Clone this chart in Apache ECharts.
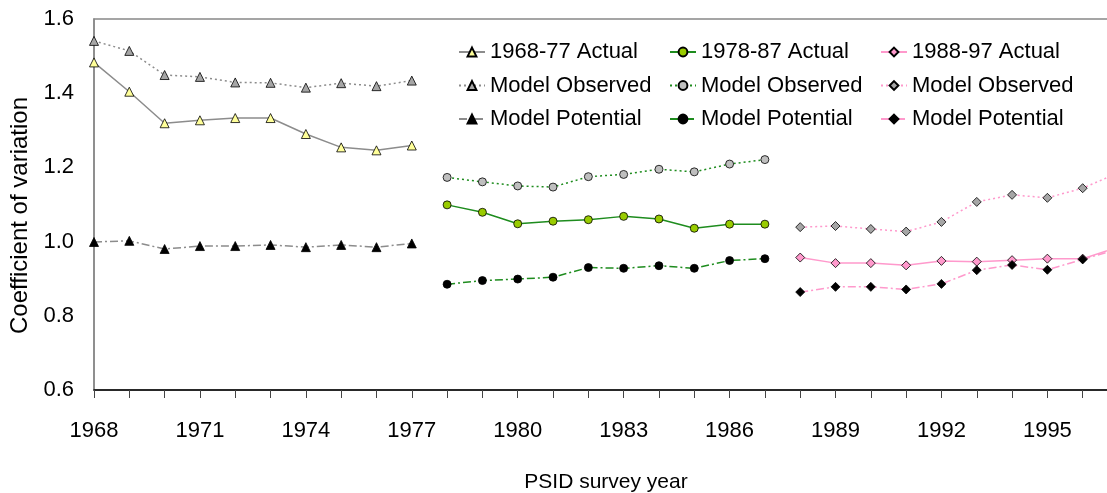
<!DOCTYPE html>
<html>
<head>
<meta charset="utf-8">
<script src="https://cdn.jsdelivr.net/npm/echarts@6/dist/echarts.min.js"></script>
<style>
  html, body { margin: 0; padding: 0; background: #ffffff; }
  #chart { width: 1107px; height: 493px; }
</style>
</head>
<body>
<div id="chart"></div>
<script>
// survey years per decade
var years1 = [1968, 1969, 1970, 1971, 1972, 1973, 1974, 1975, 1976, 1977];
var years2 = [1978, 1979, 1980, 1981, 1982, 1983, 1984, 1985, 1986, 1987];
var years3 = [1988, 1989, 1990, 1991, 1992, 1993, 1994, 1995, 1996, 1997];

// 1968-77
var actual1    = [1.483, 1.404, 1.319, 1.327, 1.333, 1.333, 1.290, 1.254, 1.246, 1.259];
var observed1  = [1.541, 1.514, 1.449, 1.444, 1.429, 1.428, 1.415, 1.427, 1.419, 1.434];
var potential1 = [0.999, 1.002, 0.980, 0.988, 0.988, 0.991, 0.985, 0.991, 0.985, 0.995];

// 1978-87
var actual2    = [1.099, 1.079, 1.048, 1.055, 1.059, 1.068, 1.061, 1.036, 1.047, 1.047];
var observed2  = [1.173, 1.161, 1.150, 1.147, 1.175, 1.181, 1.195, 1.188, 1.209, 1.221];
var potential2 = [0.885, 0.895, 0.899, 0.904, 0.930, 0.928, 0.935, 0.928, 0.949, 0.954];

// 1988-97
var actual3    = [0.957, 0.942, 0.942, 0.936, 0.948, 0.946, 0.950, 0.954, 0.954, 0.985];
var observed3  = [1.039, 1.042, 1.034, 1.027, 1.053, 1.107, 1.126, 1.118, 1.144, 1.185];
var potential3 = [0.864, 0.878, 0.878, 0.871, 0.886, 0.923, 0.937, 0.924, 0.952, 0.980];

var yTicks = [0.6, 0.8, 1.0, 1.2, 1.4, 1.6];

var legendText = {
  a1: '1968-77 Actual', o1: 'Model Observed', p1: 'Model Potential',
  a2: '1978-87 Actual', o2: 'Model Observed', p2: 'Model Potential',
  a3: '1988-97 Actual', o3: 'Model Observed', p3: 'Model Potential'
};

var FONT = 'Liberation Sans';
var GREY = '#8c8c8c';
var GREEN = '#1e8c1e';
var PINK = '#ff99cc';
var DOT = [2, 3];
var DASHDOT = [8, 3, 2, 3];

function pairs(xs, ys) {
  return xs.map(function (x, i) { return [x, ys[i]]; });
}

function mkSeries(name, xs, ys, lineColor, dash, symbol, fill, size) {
  return {
    name: name,
    type: 'line',
    data: pairs(xs, ys),
    symbol: symbol,
    symbolSize: size,
    showAllSymbol: true,
    lineStyle: { color: lineColor, width: 1.5, type: dash },
    itemStyle: { color: fill, borderColor: '#000000', borderWidth: 0.8 },
    emphasis: { disabled: true },
    z: 3
  };
}

function mkLegend(left, names) {
  return {
    data: names,
    orient: 'vertical',
    left: left,
    top: 35,
    itemWidth: 26,
    itemHeight: 11,
    itemGap: 9.5,
    selectedMode: false,
    formatter: function (n) { return legendText[n]; },
    textStyle: { fontFamily: FONT, fontSize: 22, lineHeight: 24, color: '#000' }
  };
}

var chart = echarts.init(document.getElementById('chart'), null, { renderer: 'canvas' });

chart.setOption({
  backgroundColor: '#ffffff',
  animation: false,
  grid: {
    left: 94, top: 19, width: 1024, height: 371,
    outerBoundsMode: 'none', containLabel: false,
    show: true, borderColor: '#888888', borderWidth: 1.5, backgroundColor: 'transparent'
  },
  legend: [
    mkLegend(453, ['a1', 'o1', 'p1']),
    mkLegend(664, ['a2', 'o2', 'p2']),
    mkLegend(875, ['a3', 'o3', 'p3'])
  ],
  xAxis: {
    type: 'value',
    min: 1968, max: 1997, interval: 1,
    name: 'PSID survey year',
    nameLocation: 'middle',
    nameGap: 82,
    nameTextStyle: { fontFamily: FONT, fontSize: 21, color: '#000' },
    axisLine: { show: true, lineStyle: { color: '#000000', width: 1.5 } },
    axisTick: { show: true, length: 8, lineStyle: { color: '#444', width: 1 } },
    axisLabel: {
      fontFamily: FONT, fontSize: 22, color: '#000', margin: 30,
      formatter: function (v) { return (v - 1968) % 3 === 0 ? String(v) : ''; }
    },
    splitLine: { show: false }
  },
  yAxis: {
    type: 'value',
    min: yTicks[0], max: yTicks[yTicks.length - 1], interval: 0.2,
    name: 'Coefficient of variation',
    nameLocation: 'middle',
    nameGap: 61,
    nameTextStyle: { fontFamily: FONT, fontSize: 24, color: '#000', padding: [0, 22, 0, 0] },
    axisLine: { show: true, lineStyle: { color: '#888888', width: 1.5 } },
    axisTick: { show: false },
    axisLabel: {
      fontFamily: FONT, fontSize: 22, color: '#000', margin: 20,
      formatter: function (v) { return v.toFixed(1); }
    },
    splitLine: { show: false }
  },
  series: [
    mkSeries('a1', years1, actual1, GREY, 'solid', 'triangle', '#ffff99', 9),
    mkSeries('o1', years1, observed1, GREY, DOT, 'triangle', '#a6a6a6', 9),
    mkSeries('p1', years1, potential1, GREY, DASHDOT, 'triangle', '#000000', 9),
    mkSeries('a2', years2, actual2, GREEN, 'solid', 'circle', '#99cc00', 8),
    mkSeries('o2', years2, observed2, GREEN, DOT, 'circle', '#bfbfbf', 8),
    mkSeries('p2', years2, potential2, GREEN, DASHDOT, 'circle', '#000000', 8),
    mkSeries('a3', years3, actual3, PINK, 'solid', 'diamond', '#ff99cc', 9),
    mkSeries('o3', years3, observed3, PINK, DOT, 'diamond', '#a6a6a6', 9),
    mkSeries('p3', years3, potential3, PINK, DASHDOT, 'diamond', '#000000', 9)
  ]
});
</script>
</body>
</html>
